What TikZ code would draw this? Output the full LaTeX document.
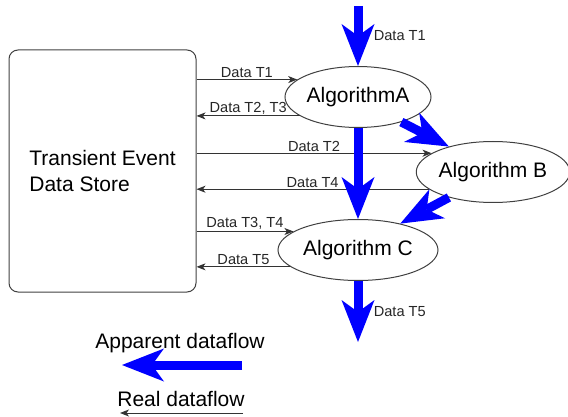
\documentclass[tikz,border=0pt]{standalone}
\usepackage{fontspec}
\setmainfont{Liberation Sans}
\usepackage{tikz}
\usetikzlibrary{arrows.meta, positioning, shapes.geometric}
\definecolor{flowblue}{RGB}{0, 0, 255}

\begin{document}
\begin{tikzpicture}[
    x=1pt, y=-1pt,
    font=\fontsize{14.6}{17}\selectfont,
    storebox/.style={draw=black!75, line width=1pt, rounded corners=9pt,
                     minimum width=187pt, minimum height=242pt, align=left,
                     font=\fontsize{21}{26}\selectfont},
    algo/.style={draw=black!75, line width=1pt, ellipse, inner sep=0pt,
                 minimum height=61pt, font=\fontsize{21}{25}\selectfont},
    realflow/.style={-{Stealth[length=9pt, width=7pt, inset=2.5pt]},
                     line width=1pt, draw=black!80},
    apparent/.style={-{Stealth[length=42pt, width=33pt, inset=12pt, line width=0pt]},
                     line width=9pt, draw=flowblue},
    lbl/.style={above, inner sep=1.5pt, text=black!85},
    big/.style={font=\fontsize{21}{25}\selectfont}
  ]
    \useasboundingbox (0,0) rectangle (568,417);

    \node[storebox] (store) at (102.5,171) {Transient Event\\Data Store};
    \node[algo, minimum width=146pt] (algA) at (358,97) {AlgorithmA};
    \node[algo, minimum width=148pt] (algB) at (493,172) {Algorithm B};
    \node[algo, minimum width=160pt] (algC) at (358,250) {Algorithm C};

    \coordinate (inT1) at (358,6);
    \coordinate (outT5) at (358,342);

    \draw[realflow] (store.east |- algA.164) -- node[lbl] {Data T1} (algA.164);
    \draw[realflow] (algA.198) -- node[lbl] {Data T2, T3} (store.east |- algA.198);
    \draw[realflow] (store.east |- algB.163) -- node[lbl] {Data T2} (algB.163);
    \draw[realflow] (algB.195) -- node[lbl] {Data T4} (store.east |- algB.195);
    \draw[realflow] (store.east |- algC.164) -- node[lbl] {Data T3, T4} (algC.164);
    \draw[realflow] (algC.194) -- node[lbl] {Data T5} (store.east |- algC.194);

    \draw[apparent] (inT1) -- node[right=8pt, text=black!85] {Data T1} (algA.north);
    \draw[apparent] (algA.south) -- (algC.north);
    \draw[apparent] (algA.-30) -- (algB.150);
    \draw[apparent] (algB.210) -- (algC.32);
    \draw[apparent] (algC.south) -- node[right=8pt, text=black!85] {Data T5} (outT5);

    \node[big] (apptext) at (180,343) {Apparent dataflow};
    \node[big] (realtext) at (181,399) {Real dataflow};
    \coordinate (appR) at (242,365);
    \coordinate (appL) at (122,365);
    \coordinate (realR) at (243,413);
    \coordinate (realL) at (120,413);
    \draw[apparent] (appR) -- (appL);
    \draw[realflow] (realR) -- (realL);
\end{tikzpicture}
\end{document}
